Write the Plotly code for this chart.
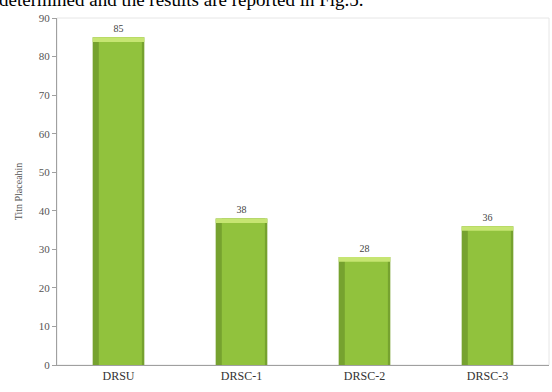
import plotly.graph_objects as go

categories = ["DRSU", "DRSC-1", "DRSC-2", "DRSC-3"]
values = [85, 38, 28, 36]
y_ticks = [0, 10, 20, 30, 40, 50, 60, 70, 80, 90]
y_title = "Titn Placeahin"
clipped_caption = "determined and the results are reported in Fig.5."

cap_h = 1.2
serif = "Liberation Serif, Times New Roman, serif"

fig = go.Figure()
# dark outer body (edges)
fig.add_trace(go.Bar(x=categories, y=values, width=0.42,
                     marker=dict(color="#76a22f", line=dict(width=0)),
                     hoverinfo="skip", showlegend=False))
# lighter inner body, shifted right so the left edge stays darker
fig.add_trace(go.Bar(x=categories, y=values, width=0.35, offset=-0.16,
                     marker=dict(color="#91c23d", line=dict(width=0)),
                     hoverinfo="skip", showlegend=False))
# light top cap with value labels
fig.add_trace(go.Bar(x=categories, y=[cap_h] * len(values),
                     base=[v - cap_h for v in values], width=0.42,
                     marker=dict(color="#c6e572", line=dict(width=0)),
                     text=[str(v) for v in values], textposition="outside",
                     textfont=dict(family=serif, size=10, color="#444"),
                     cliponaxis=False, hoverinfo="skip", showlegend=False))

fig.update_layout(
    width=552, height=392,
    margin=dict(l=57, r=3, t=18, b=27),
    barmode="overlay",
    plot_bgcolor="white", paper_bgcolor="white",
    shapes=[dict(type="rect", xref="paper", yref="paper", x0=0, x1=1, y0=0, y1=1,
                 line=dict(color="#e6e6e6", width=1), layer="below")],
    annotations=[dict(text=clipped_caption, xref="paper", yref="paper",
                      x=-0.122, y=1.052, xanchor="left", yanchor="middle",
                      showarrow=False,
                      font=dict(family=serif, size=19, color="black"))],
)
fig.update_xaxes(showline=True, linecolor="#a0a0a0", linewidth=1,
                 ticks="", showgrid=False, range=[-0.5, 3.5],
                 tickfont=dict(family=serif, size=12, color="#333"))
fig.update_yaxes(range=[0, 90], tickvals=y_ticks, showline=True,
                 linecolor="#a0a0a0", linewidth=1, ticks="outside", ticklen=4,
                 tickcolor="#a0a0a0", showgrid=False, zeroline=False,
                 tickfont=dict(family=serif, size=11, color="#555"),
                 title=dict(text=y_title, font=dict(family=serif, size=10, color="#555"),
                            standoff=14))

fig.write_html("out.html")
